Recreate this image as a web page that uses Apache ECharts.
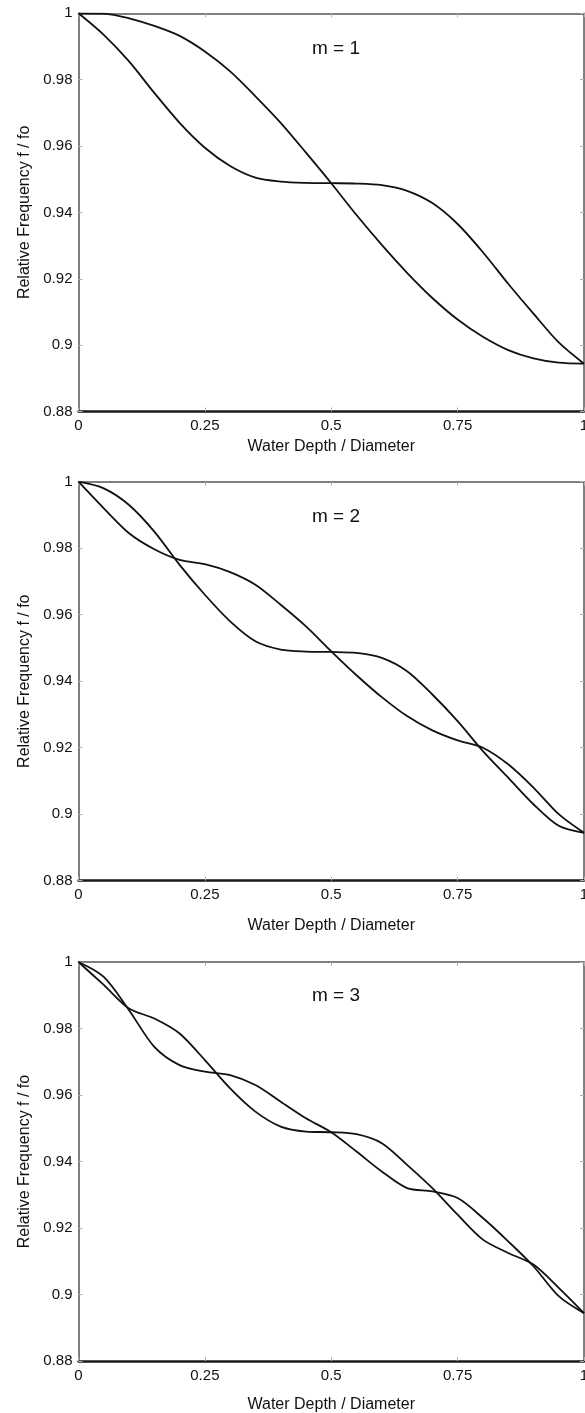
<!DOCTYPE html>
<html>
<head>
<meta charset="utf-8">
<script src="https://cdn.jsdelivr.net/npm/echarts@6/dist/echarts.min.js"></script>
<style>
html,body{margin:0;padding:0;background:#fff;overflow:hidden;}
#chart{width:585px;height:1413px;}
</style>
</head>
<body>
<div id="chart"></div>
<script>
// x positions (Water Depth / Diameter)
const depth = [0,0.05,0.1,0.15,0.2,0.25,0.3,0.35,0.4,0.45,0.5,0.55,0.6,0.65,0.7,0.75,0.8,0.85,0.9,0.95,1];
// m = 1
const m1_a = [1,0.9935,0.9855,0.976,0.967,0.9595,0.954,0.9505,0.9493,0.9489,0.9488,0.9487,0.9482,0.9465,0.9428,0.9365,0.928,0.9185,0.9095,0.9008,0.8944];
const m1_b = [1,0.9999,0.9985,0.9962,0.9932,0.9885,0.9825,0.975,0.967,0.958,0.9488,0.9392,0.9302,0.9218,0.9142,0.9077,0.9025,0.8985,0.8960,0.8947,0.8944];
// m = 2
const m2_a = [1,0.992,0.9845,0.9797,0.9765,0.9752,0.9728,0.969,0.963,0.9565,0.949,0.9418,0.9352,0.9295,0.9252,0.9222,0.920,0.915,0.908,0.900,0.8944];
const m2_b = [1,0.998,0.993,0.985,0.975,0.966,0.958,0.952,0.9495,0.9489,0.9488,0.9485,0.947,0.943,0.936,0.928,0.919,0.911,0.903,0.8965,0.8944];
// m = 3
const m3_a = [1,0.9931,0.9860,0.9830,0.9785,0.9705,0.962,0.955,0.9505,0.949,0.9488,0.9482,0.9455,0.939,0.932,0.924,0.9165,0.9125,0.909,0.902,0.8944];
const m3_b = [1,0.9955,0.9855,0.9745,0.969,0.967,0.966,0.963,0.958,0.953,0.9488,0.943,0.937,0.932,0.931,0.929,0.923,0.916,0.9085,0.8995,0.8944];

const panelLabels = ['m = 1','m = 2','m = 3'];
const xTicks = {min:0,max:1,interval:0.25};
const yTicks = {min:0.88,max:1,interval:0.02};
const xTitle = 'Water Depth / Diameter';
const yTitle = 'Relative Frequency f / fo';

const panels = [[m1_a,m1_b],[m2_a,m2_b],[m3_a,m3_b]];
const gridTops = [13.3, 481.7, 962];
const gridH = [398.2, 399, 399];
const xNameGaps = [27, 37, 36];
const labelTops = [34, 502, 981];
const FONT = '"Liberation Sans", Arial, Helvetica, sans-serif';

const chart = echarts.init(document.getElementById('chart'), null, {renderer:'canvas'});
const grid=[], xAxis=[], yAxis=[], series=[], title=[];
panels.forEach((pair,i)=>{
  grid.push({left:78.5, width:505.5, top:gridTops[i], height:gridH[i], show:false, containLabel:false, outerBoundsMode:'none'});
  const tick = {show:true, inside:true, length:4, lineStyle:{color:'#b0b0b0', width:1}};
  xAxis.push({gridIndex:i, type:'value', position:'bottom', min:xTicks.min, max:xTicks.max, interval:xTicks.interval,
    axisLine:{show:true, onZero:false, lineStyle:{color:'#1a1a1a', width:2.5}},
    axisTick:tick, splitLine:{show:false},
    axisLabel:{color:'#111', fontSize:15, fontFamily:FONT, margin:7, showMaxLabel:true, showMinLabel:true, hideOverlap:false},
    name:xTitle, nameLocation:'middle', nameGap:xNameGaps[i], nameTextStyle:{color:'#111', fontSize:16, fontFamily:FONT}});
  xAxis.push({gridIndex:i, type:'value', position:'top', min:xTicks.min, max:xTicks.max, interval:xTicks.interval,
    axisLine:{show:true, onZero:false, lineStyle:{color:'#555', width:1.5}},
    axisTick:tick, axisLabel:{show:false}, splitLine:{show:false}});
  yAxis.push({gridIndex:i, type:'value', position:'left', min:yTicks.min, max:yTicks.max, interval:yTicks.interval,
    axisLine:{show:true, onZero:false, lineStyle:{color:'#555', width:1.5}},
    axisTick:tick, splitLine:{show:false},
    axisLabel:{color:'#111', fontSize:15, fontFamily:FONT, margin:6},
    name:yTitle, nameLocation:'middle', nameGap:44, nameTextStyle:{color:'#111', fontSize:16, fontFamily:FONT}});
  yAxis.push({gridIndex:i, type:'value', position:'right', min:yTicks.min, max:yTicks.max, interval:yTicks.interval,
    axisLine:{show:true, onZero:false, lineStyle:{color:'#555', width:1.5}},
    axisTick:tick, axisLabel:{show:false}, splitLine:{show:false}});
  pair.forEach(arr=>{
    series.push({type:'line', xAxisIndex:2*i, yAxisIndex:2*i, data:depth.map((x,k)=>[x,arr[k]]),
      smooth:0.3, showSymbol:false, symbol:'none', clip:true,
      lineStyle:{color:'#111', width:1.8}, z:3});
  });
  title.push({text:panelLabels[i], left:331, top:labelTops[i], textAlign:'center',
    textStyle:{color:'#111', fontSize:19, fontWeight:'normal', fontFamily:FONT}});
});

chart.setOption({animation:false, backgroundColor:'#fff', title, grid, xAxis, yAxis, series});
</script>
</body>
</html>
